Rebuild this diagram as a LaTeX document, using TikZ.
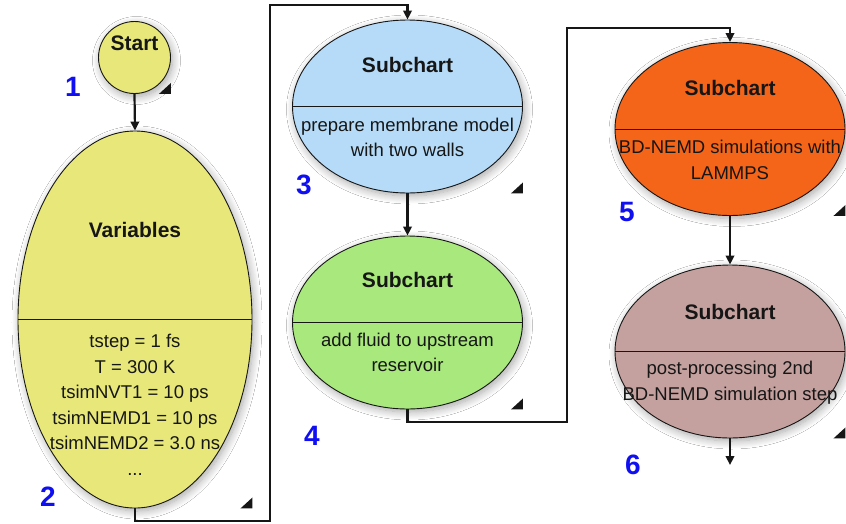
\documentclass[tikz,border=0pt]{standalone}
\usepackage{fontspec}
\setmainfont{Liberation Sans}
\usetikzlibrary{arrows.meta,shapes.geometric,shadows.blur}
\definecolor{ink}{HTML}{161616}
\definecolor{sunyellow}{HTML}{E8E87A}
\definecolor{skyblue}{HTML}{B5DBF8}
\definecolor{leafgreen}{HTML}{A9E87C}
\definecolor{flame}{HTML}{F46519}
\definecolor{rosy}{HTML}{C4A19E}
\definecolor{stepblue}{HTML}{0F0FF2}
\tikzset{
  >={Triangle[length=9pt,width=8.5pt]},
  softshadow/.style={blur shadow={shadow blur steps=10,shadow xshift=2pt,shadow yshift=-3pt,shadow blur radius=8pt,shadow opacity=35}},
  chart/.style={ellipse,draw=ink,line width=.9pt,minimum width=230,minimum height=173,inner sep=0pt,softshadow},
  startnode/.style={circle,draw=ink,line width=.9pt,fill=sunyellow,minimum size=72,inner sep=0pt,softshadow},
  divider/.style={draw=ink,line width=.9pt},
  flow/.style={->,line width=2.2pt,color=ink},
  title/.style={font=\fontsize{21}{25}\selectfont\bfseries,text=ink,inner sep=0pt},
  body/.style={font=\fontsize{18.5}{25.5}\selectfont,text=ink,align=center,inner sep=0pt},
  stepno/.style={font=\fontsize{28}{30}\selectfont\bfseries,text=stepblue,inner sep=0pt},
}

\begin{document}
\begin{tikzpicture}[x=1pt,y=-1pt]
  \useasboundingbox[fill=white] (0,0) rectangle (846,523);
  % left column
  \node[startnode] (start) at (134.5,57.5) {};
  \node[chart,fill=sunyellow,minimum width=234,minimum height=377] (vars) at (135,319.5) {};
  % middle column
  \node[chart,fill=skyblue] (prep) at (407.5,106.5) {};
  \node[chart,fill=leafgreen] (fluid) at (407.5,322.5) {};
  % right column
  \node[chart,fill=flame] (nemd) at (730,129) {};
  \node[chart,fill=rosy] (post) at (730,351.5) {};

  \foreach \n in {vars,prep,fluid,nemd,post}
    \draw[divider] (\n.west) -- (\n.east);
  \foreach \n in {start,vars,prep,fluid,nemd,post}
    \fill[ink] (\n.south -| \n.east) -- ++(0,-11) -- ++(-12,11) -- cycle;

  \node[title] (starttitle) at (134.5,43) {Start};
  \node[title] (varstitle) at (135,230) {Variables};
  \node[body] (varsbody) at (135,405)
    {tstep = 1 fs\\T = 300 K\\tsimNVT1 = 10 ps\\tsimNEMD1 = 10 ps\\tsimNEMD2 = 3.0 ns\\...};
  \node[title] (preptitle) at (407.5,65) {Subchart};
  \node[body] (prepbody) at (407.5,137.5) {prepare membrane model\\with two walls};
  \node[title] (fluidtitle) at (407.5,280) {Subchart};
  \node[body] (fluidbody) at (407.5,352.5) {add fluid to upstream\\reservoir};
  \node[title] (nemdtitle) at (730,88) {Subchart};
  \node[body] (nemdbody) at (730,160) {BD-NEMD simulations with\\LAMMPS};
  \node[title] (posttitle) at (730,312) {Subchart};
  \node[body] (postbody) at (730,382.5) {post-processing 2nd\\BD-NEMD simulation step};

  % step numbers
  \node[stepno] (no1) at (73,87) {1};
  \node[stepno] (no2) at (48,497) {2};
  \node[stepno] (no3) at (304,185) {3};
  \node[stepno] (no4) at (312,436) {4};
  \node[stepno] (no5) at (627,212) {5};
  \node[stepno] (no6) at (633,465) {6};

  % connectors
  \coordinate (low1) at (270,521);
  \coordinate (high1) at (270,5);
  \coordinate (low2) at (567,422);
  \coordinate (high2) at (567,28);
  \coordinate (tail) at (730,465);
  \draw[flow] (start.south) -- (vars.north);
  \draw[flow] (vars.south) |- (low1) -- (high1) -| (prep.north);
  \draw[flow] (prep.south) -- (fluid.north);
  \draw[flow] (fluid.south) |- (low2) -- (high2) -| (nemd.north);
  \draw[flow] (nemd.south) -- (post.north);
  \draw[flow] (post.south) -- (tail);
\end{tikzpicture}
\end{document}
